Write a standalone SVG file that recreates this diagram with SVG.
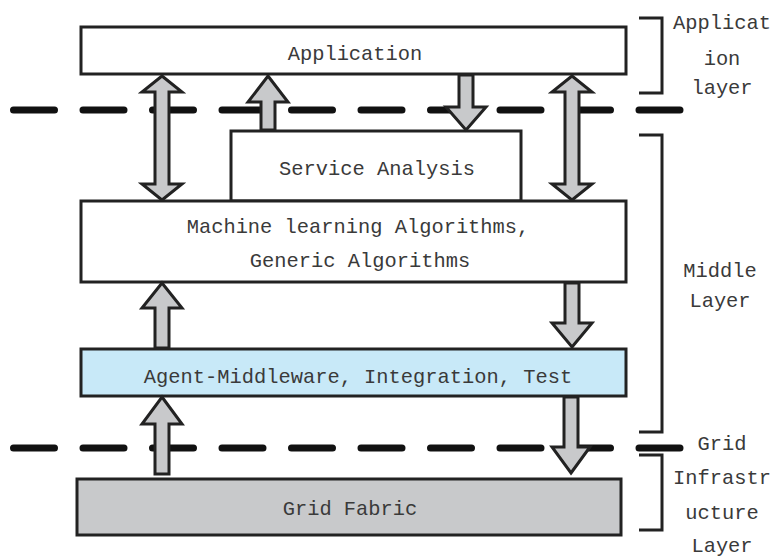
<svg xmlns="http://www.w3.org/2000/svg" width="771" height="560" viewBox="0 0 771 560">
  <style>
    .box { stroke: #222; stroke-width: 3; }
    .white { fill: #ffffff; }
    .blue { fill: #c8e9f8; }
    .gray { fill: #c8c9cb; }
    .lbl { font-family: "Liberation Mono", "DejaVu Sans Mono", monospace; font-size: 20.4px; fill: #3a3a3a; text-anchor: middle; }
    .arrow { fill: #c8c9cb; stroke: #222; stroke-width: 3; stroke-linejoin: miter; }
    .dash { stroke: #111; stroke-width: 7; stroke-linecap: round; stroke-dasharray: 41 28.5; fill: none; }
    .brace { stroke: #222; stroke-width: 3; fill: none; }
  </style>

  <!-- layer boundaries -->
  <g id="boundaries">
    <line class="dash" x1="13.5" y1="110" x2="683" y2="110"/>
    <line class="dash" x1="13.5" y1="448" x2="683" y2="448"/>
  </g>

  <g id="application">
    <rect class="box white" x="81" y="27" width="545" height="47"/>
    <text class="lbl" x="355" y="60">Application</text>
  </g>

  <g id="service-analysis">
    <rect class="box white" x="231" y="131" width="290" height="70"/>
    <text class="lbl" x="377" y="175">Service Analysis</text>
  </g>

  <g id="algorithms">
    <rect class="box white" x="81" y="201" width="545" height="81"/>
    <text class="lbl" x="358" y="233">Machine learning Algorithms,</text>
    <text class="lbl" x="360" y="267">Generic Algorithms</text>
  </g>

  <g id="agent-middleware">
    <rect class="box blue" x="81" y="349" width="545" height="47"/>
    <text class="lbl" x="358" y="383">Agent-Middleware, Integration, Test</text>
  </g>

  <g id="grid-fabric">
    <rect class="box gray" x="77" y="479" width="544" height="56"/>
    <text class="lbl" x="350" y="515">Grid Fabric</text>
  </g>

  <!-- block arrows between layers -->
  <g id="connectors">
    <path class="arrow" d="M162,76 L182,92 L169,92 L169,184 L182,184 L162,200 L142,184 L155,184 L155,92 L142,92 Z"/>
    <path class="arrow" d="M572,76 L592,92 L579,92 L579,184 L592,184 L572,200 L552,184 L565,184 L565,92 L552,92 Z"/>
    <path class="arrow" d="M268,76 L288,102 L275,102 L275,130 L261,130 L261,102 L248,102 Z"/>
    <path class="arrow" d="M466,130 L486,107 L473,107 L473,75 L459,75 L459,107 L446,107 Z"/>
    <path class="arrow" d="M162,283 L182,308 L169,308 L169,348 L155,348 L155,308 L142,308 Z"/>
    <path class="arrow" d="M572,347 L592,323 L579,323 L579,283 L565,283 L565,323 L552,323 Z"/>
    <path class="arrow" d="M162,397 L182,424 L169,424 L169,474 L155,474 L155,424 L142,424 Z"/>
    <path class="arrow" d="M571,473 L590,447 L578,447 L578,397 L564,397 L564,447 L552,447 Z"/>
  </g>

  <!-- layer brackets and names -->
  <g id="application-layer">
    <path class="brace" d="M639,18 L662,18 L662,93 L639,93"/>
    <text class="lbl" x="722" y="29">Applicat</text>
    <text class="lbl" x="722" y="65">ion</text>
    <text class="lbl" x="722" y="94">layer</text>
  </g>

  <g id="middle-layer">
    <path class="brace" d="M639,135 L662,135 L662,432 L639,432"/>
    <text class="lbl" x="720" y="277">Middle</text>
    <text class="lbl" x="720" y="307">Layer</text>
  </g>

  <g id="grid-layer">
    <path class="brace" d="M639,455 L662,455 L662,530 L639,530"/>
    <text class="lbl" x="722" y="450">Grid</text>
    <text class="lbl" x="722" y="484">Infrastr</text>
    <text class="lbl" x="722" y="519">ucture</text>
    <text class="lbl" x="722" y="552">Layer</text>
  </g>
</svg>
